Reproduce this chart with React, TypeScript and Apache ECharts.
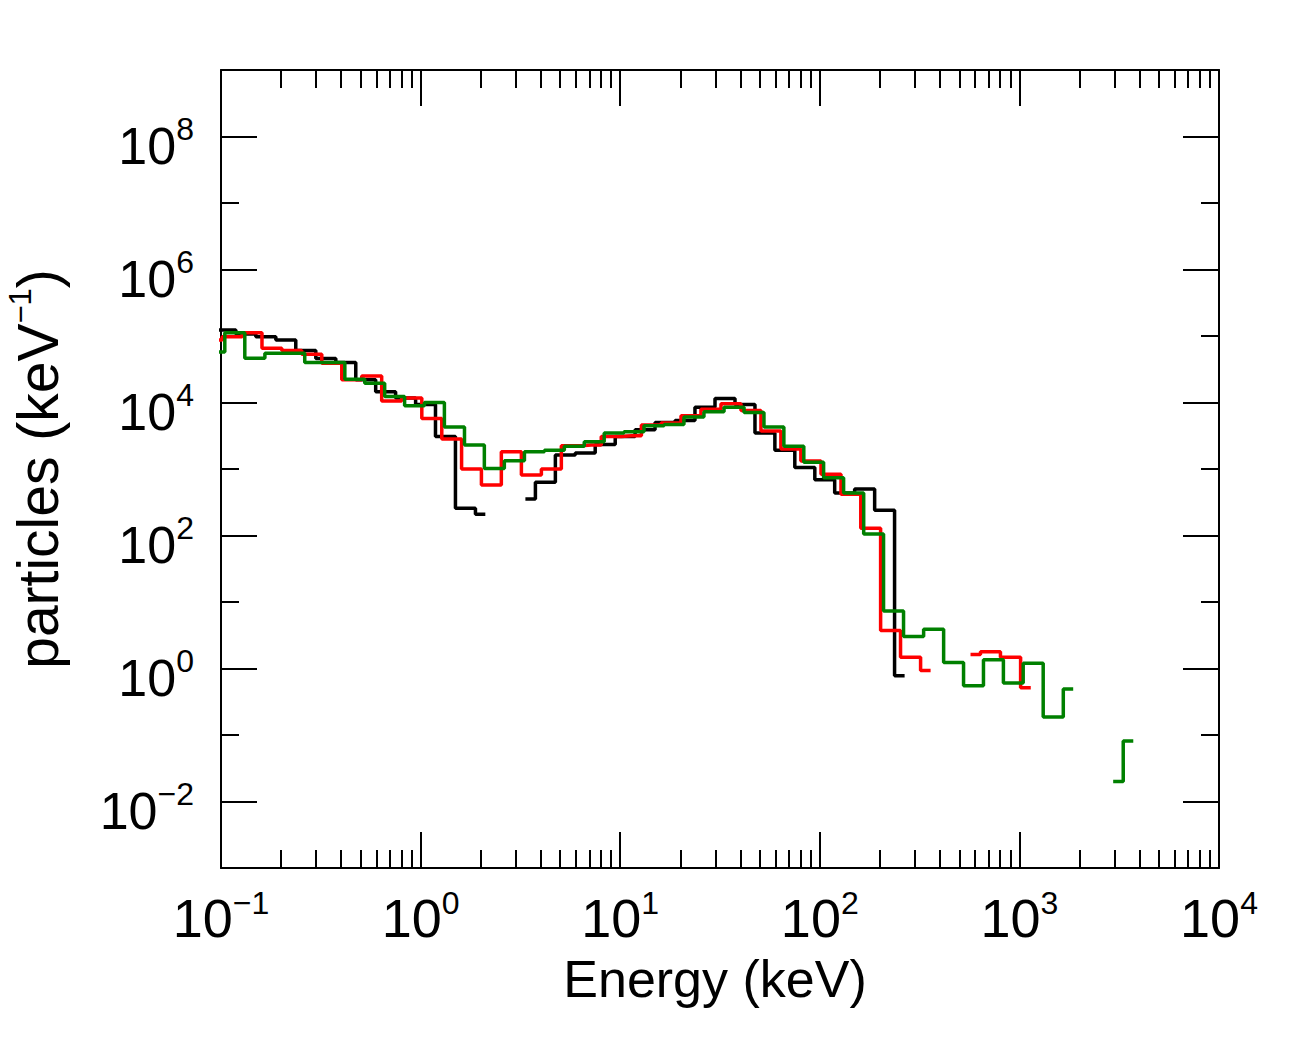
import React, { useEffect, useRef } from "react";
import * as echarts from "echarts";

// Bin centres (keV) and counts per keV for the three spectra
const blackEnergy = [0.0841, 0.106, 0.133, 0.168, 0.211, 0.266, 0.335, 0.422, 0.531, 0.668, 0.841, 1.06, 1.33, 1.68, 2.11, 2.66, 3.35, 4.22, 5.31, 6.68, 8.41, 10.6, 13.3, 16.8, 21.1, 26.6, 33.5, 42.2, 53.1, 66.8, 84.1, 106, 133, 168, 211, 266];
const blackCounts = [1.23e5, 1.23e5, 1.07e5, 9.77e4, 8.71e4, 6.03e4, 4.57e4, 3.98e4, 2.19e4, 1.45e4, 1.17e4, 9330, 3090, 257, 209, null, 355, 631, 1620, 1740, 2340, 3090, 3890, 5010, 5370, 8510, 1.15e4, 9330, 3470, 1910, 1050, 692, 437, 501, 240, 0.776];

const redEnergy = [0.0902, 0.114, 0.143, 0.18, 0.226, 0.285, 0.359, 0.452, 0.569, 0.716, 0.902, 1.14, 1.43, 1.8, 2.26, 2.85, 3.59, 4.52, 5.69, 7.16, 9.02, 11.4, 14.3, 18, 22.6, 28.5, 35.9, 45.2, 56.9, 71.6, 90.2, 114, 143, 180, 226, 285, 359, 452, 569, 716, 902, 1140];
const redCounts = [8.71e4, 9.77e4, 1.12e5, 6.53e4, 6.03e4, 5.31e4, 3.89e4, 2.19e4, 2.51e4, 1.05e4, 1.17e4, 5750, 2820, 1000, 575, 1820, 813, 1000, 2240, 2290, 3090, 3160, 4570, 4900, 6310, 7940, 9550, 7590, 3720, 2000, 1320, 832, 417, 129, 3.72, 1.48, 0.933, null, 1.62, 1.78, 1.48, 0.513];

const greenEnergy = [0.0933, 0.117, 0.148, 0.186, 0.234, 0.295, 0.372, 0.468, 0.589, 0.741, 0.933, 1.17, 1.48, 1.86, 2.34, 2.95, 3.72, 4.68, 5.89, 7.41, 9.33, 11.7, 14.8, 18.6, 23.4, 29.5, 37.2, 46.8, 58.9, 74.1, 93.3, 117, 148, 186, 234, 295, 372, 468, 589, 741, 933, 1170, 1480, 1860, 2340, 2950, 3720];
const greenCounts = [5.75e4, 1.12e5, 4.62e4, 5.5e4, 5.5e4, 3.98e4, 3.98e4, 2.24e4, 1.95e4, 1.23e4, 8910, 1.0e4, 4270, 2290, 1020, 1330, 1820, 1910, 2190, 2570, 3470, 3630, 4470, 4680, 6030, 7240, 8510, 7080, 4270, 2190, 1260, 741, 437, 105, 7.33, 3.02, 3.89, 1.23, 0.55, 1.35, 0.603, 1.2, 0.186, 0.49, null, 0.02, 0.0813];

// Axis ticks
const xMajorTicks = [0.1, 1, 10, 100, 1000, 10000];
const xMinorTicks = [0.2, 0.3, 0.4, 0.5, 0.6, 0.7, 0.8, 0.9, 2, 3, 4, 5, 6, 7, 8, 9, 20, 30, 40, 50, 60, 70, 80, 90, 200, 300, 400, 500, 600, 700, 800, 900, 2000, 3000, 4000, 5000, 6000, 7000, 8000, 9000];
const yMajorTicks = [1e-2, 1, 1e2, 1e4, 1e6, 1e8];
const yMinorTicks = [1e-1, 10, 1e3, 1e5, 1e7];

const FONT = "'Liberation Sans', Arial, Helvetica, sans-serif";

function expLabel(v: number): string {
  const e = Math.round(Math.log10(v));
  const s = e < 0 ? "\u2212" + Math.abs(e) : String(e);
  return "{m|10}{s|" + s + "}";
}

// split a histogram into its continuous runs (gaps = empty bins)
function runs(energy: number[], counts: (number | null)[]) {
  const out: number[][][] = [];
  let cur: number[][] = [];
  energy.forEach((e, i) => {
    const c = counts[i];
    if (c == null) {
      if (cur.length) out.push(cur);
      cur = [];
    } else {
      cur.push([e, c]);
    }
  });
  if (cur.length) out.push(cur);
  return out;
}

function makeX(position: "top" | "bottom", ticks: number[], len: number, major: boolean, labels: boolean) {
  return {
    type: "log",
    logBase: 10,
    min: 0.1,
    max: 10000,
    position,
    axisLine: { show: major, lineStyle: { color: "#000", width: 2 } },
    axisTick: { show: true, inside: true, length: len, customValues: ticks, lineStyle: { color: "#000", width: 2 } },
    splitLine: { show: false },
    minorTick: { show: false },
    axisLabel: labels
      ? {
          show: true,
          customValues: ticks,
          margin: 19,
          formatter: (v: number) => expLabel(v),
          rich: {
            m: { fontFamily: FONT, fontSize: 54, lineHeight: 54, color: "#000", padding: [7, 0, 0, 0] },
            s: { fontFamily: FONT, fontSize: 32, lineHeight: 32, color: "#000", verticalAlign: "top" },
          },
        }
      : { show: false },
    ...(labels
      ? {
          name: "Energy (keV)",
          nameLocation: "middle",
          nameGap: 85,
          nameTextStyle: { fontFamily: FONT, fontSize: 52, color: "#000", padding: [0, 10, 0, 0] },
        }
      : {}),
  };
}

function makeY(position: "left" | "right", ticks: number[], len: number, major: boolean, labels: boolean) {
  return {
    type: "log",
    logBase: 10,
    min: 1e-3,
    max: 1e9,
    position,
    axisLine: { show: major, lineStyle: { color: "#000", width: 2 } },
    axisTick: { show: true, inside: true, length: len, customValues: ticks, lineStyle: { color: "#000", width: 2 } },
    splitLine: { show: false },
    minorTick: { show: false },
    axisLabel: labels
      ? {
          show: true,
          customValues: ticks,
          margin: 27,
          formatter: (v: number) => expLabel(v),
          rich: {
            m: { fontFamily: FONT, fontSize: 52, lineHeight: 52, color: "#000", padding: [18, 0, 0, 0] },
            s: { fontFamily: FONT, fontSize: 32, lineHeight: 32, color: "#000", verticalAlign: "top", padding: [2, 0, 0, 0] },
          },
        }
      : { show: false },
    ...(labels
      ? {
          name: "{m|particles (keV}{s|\u22121}{m|)}",
          nameLocation: "middle",
          nameGap: 159,
          nameTextStyle: {
            fontFamily: FONT,
            fontSize: 57,
            color: "#000",
            rich: {
              m: { fontFamily: FONT, fontSize: 57, lineHeight: 57, color: "#000", padding: [8, 0, 0, 0] },
              s: { fontFamily: FONT, fontSize: 31, lineHeight: 31, color: "#000", verticalAlign: "top" },
            },
          },
        }
      : {}),
  };
}

function stepSeries(name: string, color: string, energy: number[], counts: (number | null)[]) {
  return runs(energy, counts).map((run) => ({
    name,
    type: "line",
    step: "middle",
    xAxisIndex: 0,
    yAxisIndex: 0,
    showSymbol: false,
    symbol: "none",
    clip: true,
    lineStyle: { color, width: 3.5 },
    itemStyle: { color },
    data: run,
  }));
}

export default function App() {
  const ref = useRef<HTMLDivElement>(null);
  useEffect(() => {
    if (!ref.current) return;
    const chart = echarts.init(ref.current, undefined, { renderer: "svg" });
    chart.setOption({
      animation: false,
      backgroundColor: "#fff",
      textStyle: { fontFamily: FONT },
      grid: { left: 221, top: 70, right: 92, bottom: 177, containLabel: false, outerBoundsMode: "none" },
      xAxis: [
        makeX("bottom", xMajorTicks, 36, true, true),
        makeX("bottom", xMinorTicks, 18, false, false),
        makeX("top", xMajorTicks, 36, true, false),
        makeX("top", xMinorTicks, 18, false, false),
      ],
      yAxis: [
        makeY("left", yMajorTicks, 36, true, true),
        makeY("left", yMinorTicks, 18, false, false),
        makeY("right", yMajorTicks, 36, true, false),
        makeY("right", yMinorTicks, 18, false, false),
      ],
      series: [
        ...stepSeries("black", "#000000", blackEnergy, blackCounts),
        ...stepSeries("red", "#ff0000", redEnergy, redCounts),
        ...stepSeries("green", "#008000", greenEnergy, greenCounts),
      ],
    });
    return () => chart.dispose();
  }, []);
  return (
    <div
      ref={ref}
      style={{ position: "absolute", left: 0, top: 0, width: 1311, height: 1045, background: "#fff" }}
    />
  );
}
